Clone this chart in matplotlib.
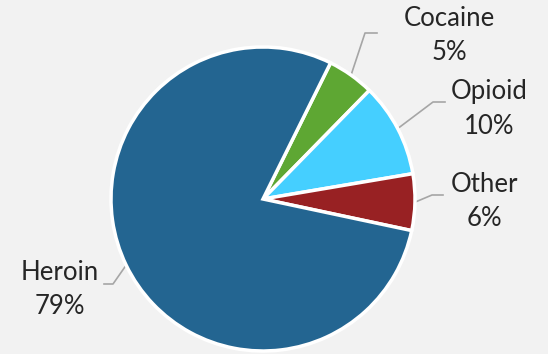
import numpy as np
import matplotlib
matplotlib.use("Agg")
import matplotlib.pyplot as plt

# drug categories and their share (%)
labels = ["Cocaine", "Opioid", "Other", "Heroin"]
shares = [5, 10, 6, 79]
colors = ["#5EA733", "#45CFFF", "#982123", "#236591"]

plt.rcParams["font.family"] = ["Lato", "DejaVu Sans"]

fig = plt.figure(figsize=(5.48, 3.54), dpi=100, facecolor="#F2F2F2")
ax = fig.add_axes([0, 0, 1, 1])
ax.set_facecolor("#F2F2F2")

cx, cy, r = 263, 155, 152
wedges, _ = ax.pie(shares, colors=colors, startangle=63.6, counterclock=False,
                   center=(cx, cy), radius=r, frame=True,
                   wedgeprops=dict(edgecolor="white", linewidth=2.5))
ax.set_xlim(0, 548)
ax.set_ylim(0, 354)
ax.set_aspect("equal")
ax.axis("off")

# label layout: elbow point, end of horizontal stub, text centre
layout = {
    "Cocaine": ((365, 321), (377, 321), (449, 319)),
    "Opioid": ((433, 252), (445, 252), (489, 245)),
    "Other": ((432, 159), (443, 159), (484, 152)),
    "Heroin": ((113, 70), (104, 70), (60, 65)),
}

for w, lab, val in zip(wedges, labels, shares):
    mid = np.deg2rad((w.theta1 + w.theta2) / 2)
    px, py = cx + r * np.cos(mid), cy + r * np.sin(mid)
    (ex, ey), (sx, sy), (tx, ty) = layout[lab]
    ax.plot([px, ex, sx], [py, ey, sy], color="#A6A6A6", lw=1.2, zorder=0)
    ax.text(tx, ty + 17, lab, ha="center", va="center",
            fontsize=18.5, color="#262626")
    ax.text(tx, ty - 17, f"{val}%", ha="center", va="center",
            fontsize=18.5, color="#262626")

fig.savefig("out.png", dpi=100, facecolor="#F2F2F2")
